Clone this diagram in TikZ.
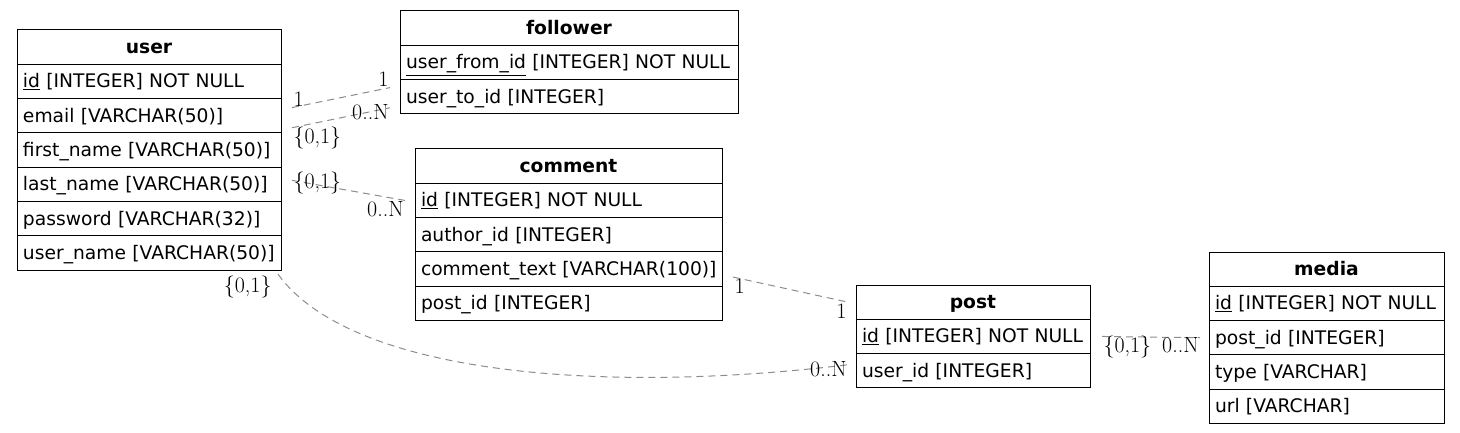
\documentclass[tikz,border=0pt]{standalone}
\usepackage{fontspec}
\newfontfamily\tblfont{DejaVu Sans}
\usetikzlibrary{positioning}

\definecolor{relgray}{HTML}{8C8C8C}
\tikzset{
  tblhead/.style={draw, line width=1pt, outer sep=0pt, inner xsep=6pt, inner ysep=0pt,
    minimum height=34.3pt, text width=#1, align=center, text height=14pt, text depth=1pt,
    font=\fontsize{18.7}{22}\selectfont\tblfont\bfseries, anchor=north west},
  tblrow/.style={tblhead=#1, align=left, font=\fontsize{18.7}{22}\selectfont\tblfont},
  rel/.style={draw=relgray, line width=1pt, dash pattern=on 7pt off 5pt},
  card/.style={font=\fontsize{22}{24}\selectfont, inner sep=1pt},
}

\begin{document}
\begin{tikzpicture}[x=1pt,y=-1pt]
  \useasboundingbox (0,0) rectangle (1460,433);

  % tables
  \node[tblhead=252pt] (user) at (17,30) {user};
  \foreach \n/\t [remember=\n as \last (initially user)] in {uid/\underline{id} [INTEGER] NOT NULL,
      uemail/email [VARCHAR(50)], ufirst/first\_name [VARCHAR(50)], ulast/last\_name [VARCHAR(50)],
      upass/password [VARCHAR(32)], uname/user\_name [VARCHAR(50)]}
    \node[tblrow=252pt, below=0pt of \last] (\n) {\mbox{\t}};

  \node[tblhead=326pt] (follower) at (400,11) {follower};
  \foreach \n/\t [remember=\n as \last (initially follower)] in {ffrom/\underline{user\_from\_id} [INTEGER] NOT NULL,
      fto/user\_to\_id [INTEGER]}
    \node[tblrow=326pt, below=0pt of \last] (\n) {\mbox{\t}};

  \node[tblhead=295pt] (comment) at (415,149) {comment};
  \foreach \n/\t [remember=\n as \last (initially comment)] in {cid/\underline{id} [INTEGER] NOT NULL,
      cauthor/author\_id [INTEGER], ctext/comment\_text [VARCHAR(100)], cpost/post\_id [INTEGER]}
    \node[tblrow=295pt, below=0pt of \last] (\n) {\mbox{\t}};

  \node[tblhead=222pt] (post) at (856,285) {post};
  \foreach \n/\t [remember=\n as \last (initially post)] in {pid/\underline{id} [INTEGER] NOT NULL,
      puser/user\_id [INTEGER]}
    \node[tblrow=222pt, below=0pt of \last] (\n) {\mbox{\t}};

  \node[tblhead=223pt] (media) at (1209,252) {media};
  \foreach \n/\t [remember=\n as \last (initially media)] in {mid/\underline{id} [INTEGER] NOT NULL,
      mpost/post\_id [INTEGER], mtype/type [VARCHAR], murl/url [VARCHAR]}
    \node[tblrow=223pt, below=0pt of \last] (\n) {\mbox{\t}};

  % relations
  \draw[rel] ([xshift=11pt,yshift=-9pt]uid.south east) node[card, anchor=south west] {1}
    -- ([xshift=-10pt,yshift=-8pt]ffrom.south west) node[card, anchor=south east] {1};
  \draw[rel] ([xshift=11pt,yshift=-12pt]uemail.east) node[card, anchor=north west, yshift=2pt] {\{0,1\}}
    -- ([xshift=-10pt,yshift=-11pt]fto.west) node[card, anchor=north east, yshift=5pt] {0..N};
  \draw[rel] ([xshift=11pt,yshift=4pt]ulast.east) node[card, anchor=west, yshift=-3pt] {\{0,1\}}
    -- ([xshift=-10pt]cid.west) node[card, anchor=north east] {0..N};
  \draw[rel] ([xshift=-3pt,yshift=-4pt]uname.south east) node[card, anchor=north east, xshift=-5pt] {\{0,1\}}
    .. controls +(72,100) and +(-248,30) .. ([xshift=-8pt,yshift=6pt]puser.west) node[card, anchor=east, yshift=-4pt] {0..N};
  \draw[rel] ([xshift=11pt,yshift=-8pt]ctext.east) node[card, anchor=north west] {1}
    -- ([xshift=-8pt]post.west) node[card, anchor=north east] {1};
  \draw[rel] ([xshift=12pt]pid.east) node[card, anchor=north west, yshift=2pt] {\{0,1\}}
    -- ([xshift=-9pt]mpost.west) node[card, anchor=north east, yshift=2pt] {0..N};
\end{tikzpicture}
\end{document}
